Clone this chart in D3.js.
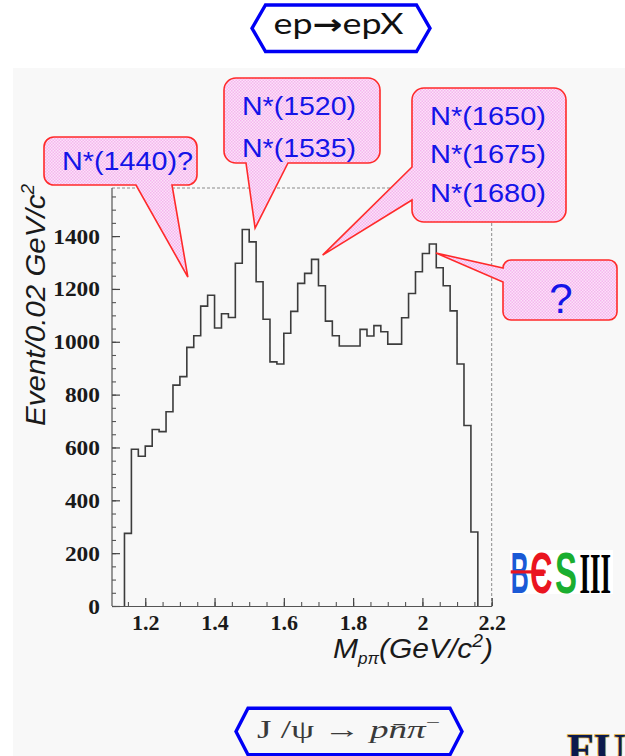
<!DOCTYPE html>
<html>
<head>
<meta charset="utf-8">
<script src="https://cdn.jsdelivr.net/npm/d3@7"></script>
<style>
  html, body { margin: 0; padding: 0; background: #ffffff; }
  svg { display: block; }
</style>
</head>
<body>
<svg id="chart" width="625" height="756"></svg>
<script>
// ---- data: M(p pi) spectrum, events per 0.02 GeV/c^2 bin ----
const binLow = [1.14, 1.16, 1.18, 1.20, 1.22, 1.24, 1.26, 1.28, 1.30, 1.32,
                1.34, 1.36, 1.38, 1.40, 1.42, 1.44, 1.46, 1.48, 1.50, 1.52,
                1.54, 1.56, 1.58, 1.60, 1.62, 1.64, 1.66, 1.68, 1.70, 1.72,
                1.74, 1.76, 1.78, 1.80, 1.82, 1.84, 1.86, 1.88, 1.90, 1.92,
                1.94, 1.96, 1.98, 2.00, 2.02, 2.04, 2.06, 2.08, 2.10, 2.12, 2.14];
const counts = [275, 593, 567, 605, 668, 660, 735, 836, 868, 979,
                1023, 1135, 1176, 1052, 1106, 1092, 1297, 1425, 1378, 1227,
                1085, 924, 916, 1032, 1115, 1221, 1259, 1312, 1212, 1078,
                1023, 984, 984, 984, 1047, 1022, 1061, 1038, 991, 991,
                1091, 1183, 1265, 1334, 1370, 1280, 1212, 1117, 916, 683, 280];
const binWidth = 0.02;

const xTicks = [1.2, 1.4, 1.6, 1.8, 2.0, 2.2];
const xTickLabels = ["1.2", "1.4", "1.6", "1.8", "2", "2.2"];
const yTicks = [0, 200, 400, 600, 800, 1000, 1200, 1400];

// resonance annotations: label lines and the (mass, events) point each one marks
const noteLabels = [["N*(1440)?"], ["N*(1520)", "N*(1535)"], ["N*(1650)", "N*(1675)", "N*(1680)"], ["?"]];
const noteTips = [[1.323, 1245], [1.517, 1430], [1.712, 1328], [2.039, 1336]];

// ---- layout ----
const W = 625, H = 756;
const plot = { left: 112, right: 491.7, top: 188, bottom: 606 };

const svg = d3.select("#chart");
const defs = svg.append("defs");

// pink checker fill used by the speech bubbles
const pat = defs.append("pattern").attr("id", "pinkHatch")
  .attr("width", 3).attr("height", 3).attr("patternUnits", "userSpaceOnUse");
pat.append("rect").attr("width", 3).attr("height", 3).attr("fill", "#fce2f9");
pat.append("rect").attr("width", 1.5).attr("height", 1.5).attr("fill", "#f5b6ee");
pat.append("rect").attr("x", 1.5).attr("y", 1.5).attr("width", 1.5).attr("height", 1.5).attr("fill", "#f5b6ee");

// page backgrounds
svg.append("rect").attr("width", W).attr("height", H).attr("fill", "#ffffff");
svg.append("rect").attr("x", 13).attr("y", 68).attr("width", W - 13).attr("height", H - 68).attr("fill", "#f8f8f8");

// ---- title badge ----
const hexLine = d3.line();
const titleHex = [[252, 28.3], [265.5, 5], [416.5, 5], [430, 28.3], [416.5, 51.5], [265.5, 51.5]];
svg.append("path").attr("d", hexLine(titleHex) + "Z")
  .attr("fill", "#ffffff").attr("stroke", "#0000f5").attr("stroke-width", 3.4).attr("stroke-linejoin", "miter");
const title = svg.append("text").attr("x", 338.5).attr("y", 34)
  .attr("text-anchor", "middle").attr("font-family", "Lato, 'Liberation Sans', sans-serif")
  .attr("font-size", 28).attr("fill", "#111")
  .attr("textLength", 130).attr("lengthAdjust", "spacingAndGlyphs");
title.append("tspan").text("ep");
title.append("tspan").attr("font-family", "'DejaVu Sans', sans-serif").attr("font-weight", "bold").text("\u2192");
title.append("tspan").text("epX");

// ---- scales ----
const x = d3.scaleLinear().domain([1.104, 2.2]).range([plot.left, plot.right]);
const y = d3.scaleLinear().domain([0, 1582]).range([plot.bottom, plot.top]);

// ---- frame ----
const frame = svg.append("g");
frame.append("line").attr("x1", plot.left).attr("x2", plot.right).attr("y1", plot.top).attr("y2", plot.top)
  .attr("stroke", "#8a8a8a").attr("stroke-width", 1).attr("stroke-dasharray", "3,2");
frame.append("line").attr("x1", plot.right).attr("x2", plot.right).attr("y1", plot.top).attr("y2", plot.bottom)
  .attr("stroke", "#8a8a8a").attr("stroke-width", 1).attr("stroke-dasharray", "3,2");

// ---- axes ----
function styleAxis(g) {
  g.attr("font-family", null).attr("font-size", null);
  g.select(".domain").attr("stroke", "#555").attr("stroke-width", 1.2);
  g.selectAll(".tick line").attr("stroke", "#444").attr("stroke-width", 1.2);
  g.selectAll(".tick text")
    .attr("font-family", "'Liberation Serif', 'Times New Roman', serif")
    .attr("font-weight", "bold").attr("font-size", 22).attr("fill", "#1a1a1a");
}

// y axis: major ticks every 200, minor every 50, all pointing inward
const yMinor = svg.append("g").attr("transform", `translate(${plot.left},0)`)
  .call(d3.axisLeft(y).tickValues(d3.range(0, 1551, 50)).tickSize(-4).tickSizeOuter(0).tickFormat(""));
yMinor.select(".domain").remove();
yMinor.selectAll(".tick line").attr("stroke", "#555").attr("stroke-width", 1.1);

const yAxisG = svg.append("g").attr("transform", `translate(${plot.left},0)`)
  .call(d3.axisLeft(y).tickValues(yTicks).tickSize(-8).tickSizeOuter(0).tickPadding(12).tickFormat(d3.format("d")));
yAxisG.select(".domain").attr("d", `M0,${plot.top}V${plot.bottom}`);
styleAxis(yAxisG);
yAxisG.selectAll(".tick text")
  .attr("textLength", d => String(d).length * 11.7).attr("lengthAdjust", "spacingAndGlyphs");

// x axis: major ticks every 0.2, minor every 0.05
const xMinor = svg.append("g").attr("transform", `translate(0,${plot.bottom})`)
  .call(d3.axisBottom(x).tickValues(d3.range(1.15, 2.201, 0.05)).tickSize(-4).tickSizeOuter(0).tickFormat(""));
xMinor.select(".domain").remove();
xMinor.selectAll(".tick line").attr("stroke", "#555").attr("stroke-width", 1.1);

const xAxisG = svg.append("g").attr("transform", `translate(0,${plot.bottom})`)
  .call(d3.axisBottom(x).tickValues(xTicks).tickSize(-8).tickSizeOuter(0).tickPadding(8)
    .tickFormat((d, i) => xTickLabels[i]));
styleAxis(xAxisG);

// axis titles
const yTitle = svg.append("text")
  .attr("transform", "translate(45,305) rotate(-90)")
  .attr("text-anchor", "middle")
  .attr("font-family", "'Liberation Sans', Arial, sans-serif")
  .attr("font-style", "italic").attr("font-size", 28).attr("fill", "#1a1a1a")
  .attr("textLength", 242).attr("lengthAdjust", "spacingAndGlyphs");
yTitle.append("tspan").text("Event/0.02 GeV/c");
yTitle.append("tspan").attr("dy", -11).attr("font-size", 18).text("2");

const xTitle = svg.append("text")
  .attr("x", 333).attr("y", 658)
  .attr("font-family", "'Liberation Sans', Arial, sans-serif")
  .attr("font-style", "italic").attr("font-size", 28).attr("fill", "#1a1a1a")
  .attr("textLength", 160).attr("lengthAdjust", "spacingAndGlyphs");
xTitle.append("tspan").text("M");
xTitle.append("tspan").attr("dy", 6).attr("font-size", 16).text("p\u03c0");
xTitle.append("tspan").attr("dy", -6).text("(GeV/c");
xTitle.append("tspan").attr("dy", -11).attr("font-size", 18).text("2");
xTitle.append("tspan").attr("dy", 11).text(")");

// ---- histogram ----
const stepPts = [[x(binLow[0]), y(0)]];
binLow.forEach((b, i) => {
  stepPts.push([x(b), y(counts[i])]);
  stepPts.push([x(b + binWidth), y(counts[i])]);
});
stepPts.push([x(binLow[binLow.length - 1] + binWidth), y(0)]);
svg.append("path").attr("d", d3.line()(stepPts))
  .attr("fill", "none").attr("stroke", "#3c3c3c").attr("stroke-width", 1.6)
  .attr("stroke-linejoin", "miter");

// ---- speech bubbles ----
const bubbleBoxes = [
  { x0: 44, y0: 137, x1: 197, y1: 185, r: 10, side: "bottom", t0: 136, t1: 172 },
  { x0: 224, y0: 78, x1: 380, y1: 163, r: 12, side: "bottom", t0: 246, t1: 288 },
  { x0: 412, y0: 88, x1: 566, y1: 222, r: 12, side: "left", t0: 167, t1: 200 },
  { x0: 503, y0: 260, x1: 617, y1: 320, r: 8, side: "left", t0: 268, t1: 282 }
];
const bubbleText = [
  { cx: 127.5, base: [169.5], len: [131], size: 25 },
  { cx: 299, base: [115, 157], len: [114, 114], size: 25 },
  { cx: 488, base: [125, 163, 201.5], len: [116, 116, 116], size: 25 },
  { cx: 561, base: [313], len: [null], size: 42 }
];

function bubblePath(b, tip) {
  const p = d3.path();
  p.moveTo(b.x0 + b.r, b.y0);
  p.lineTo(b.x1 - b.r, b.y0);
  p.arcTo(b.x1, b.y0, b.x1, b.y0 + b.r, b.r);
  p.lineTo(b.x1, b.y1 - b.r);
  p.arcTo(b.x1, b.y1, b.x1 - b.r, b.y1, b.r);
  if (b.side === "bottom") {
    p.lineTo(b.t1, b.y1); p.lineTo(tip[0], tip[1]); p.lineTo(b.t0, b.y1);
  }
  p.lineTo(b.x0 + b.r, b.y1);
  p.arcTo(b.x0, b.y1, b.x0, b.y1 - b.r, b.r);
  if (b.side === "left") {
    p.lineTo(b.x0, b.t1); p.lineTo(tip[0], tip[1]); p.lineTo(b.x0, b.t0);
  }
  p.lineTo(b.x0, b.y0 + b.r);
  p.arcTo(b.x0, b.y0, b.x0 + b.r, b.y0, b.r);
  p.closePath();
  return p.toString();
}

const notes = svg.append("g");
noteLabels.forEach((lines, i) => {
  const tip = [x(noteTips[i][0]), y(noteTips[i][1])];
  notes.append("path").attr("d", bubblePath(bubbleBoxes[i], tip))
    .attr("fill", "url(#pinkHatch)").attr("stroke", "#ff2a2a").attr("stroke-width", 1.6)
    .attr("stroke-linejoin", "miter");
  const bt = bubbleText[i];
  lines.forEach((s, j) => {
    const t = notes.append("text").attr("x", bt.cx).attr("y", bt.base[j])
      .attr("text-anchor", "middle")
      .attr("font-family", "'Liberation Sans', Arial, sans-serif")
      .attr("font-size", bt.size).attr("fill", "#1414e8").text(s);
    if (bt.len[j]) t.attr("textLength", bt.len[j]).attr("lengthAdjust", "spacingAndGlyphs");
  });
});

// ---- BESIII logo: each glyph squeezed horizontally into its own slot ----
const logo = svg.append("g");
logo.append("rect").attr("x", 510).attr("y", 550).attr("width", 103).attr("height", 44).attr("fill", "#ffffff");
const logoLetters = [
  { t: "B", x: 510.7, w: 18, c: "#1b5ad6", f: "'Liberation Sans', Arial, sans-serif" },
  { t: "\u0404", x: 530, w: 22.5, c: "#ea1520", f: "'Liberation Sans', Arial, sans-serif" },
  { t: "S", x: 555, w: 22, c: "#1aae30", f: "'Liberation Sans', Arial, sans-serif" },
  { t: "III", x: 579.5, w: 31.5, c: "#000000", f: "'Liberation Serif', 'Times New Roman', serif" }
];
logoLetters.forEach(l => {
  const t = logo.append("text").attr("x", 0).attr("y", 0)
    .attr("font-family", l.f).attr("font-weight", "bold").attr("font-size", 57)
    .attr("fill", l.c).text(l.t);
  const natural = t.node().getComputedTextLength();
  t.attr("transform", `translate(${l.x},593) scale(${l.w / natural},1)`);
});
logo.append("rect").attr("x", 510.7).attr("y", 570.3).attr("width", 35).attr("height", 3.2).attr("fill", "#ea1520");

// ---- bottom reaction badge ----
const reactHex = [[236, 731.5], [248, 708.3], [450, 708.3], [462, 731.5], [450, 754.7], [248, 754.7]];
svg.append("path").attr("d", hexLine(reactHex) + "Z")
  .attr("fill", "#f8f8f8").attr("stroke", "#0000f5").attr("stroke-width", 3.4);
const react = svg.append("text").attr("x", 257).attr("y", 738)
  .attr("font-family", "'Liberation Serif', 'DejaVu Serif', serif")
  .attr("font-size", 25).attr("fill", "#3a3a3a")
  .attr("textLength", 183).attr("lengthAdjust", "spacingAndGlyphs");
react.append("tspan").text("J /\u03c8 \u2192 ");
react.append("tspan").attr("font-style", "italic").text("p");
react.append("tspan").attr("font-style", "italic").text("n\u0304");
react.append("tspan").attr("font-style", "italic").text("\u03c0");
react.append("tspan").attr("dy", -10).attr("font-size", 17).text("\u2212");

// partial university mark at the lower right, running off the page edge
svg.append("text").attr("x", 567).attr("y", 764)
  .attr("font-family", "'Liberation Serif', 'Times New Roman', serif")
  .attr("font-weight", "bold").attr("font-size", 44)
  .attr("fill", "#0b1a4d").attr("stroke", "#d6aa3c").attr("stroke-width", 1.4)
  .attr("paint-order", "stroke").text("FU");
</script>
</body>
</html>
